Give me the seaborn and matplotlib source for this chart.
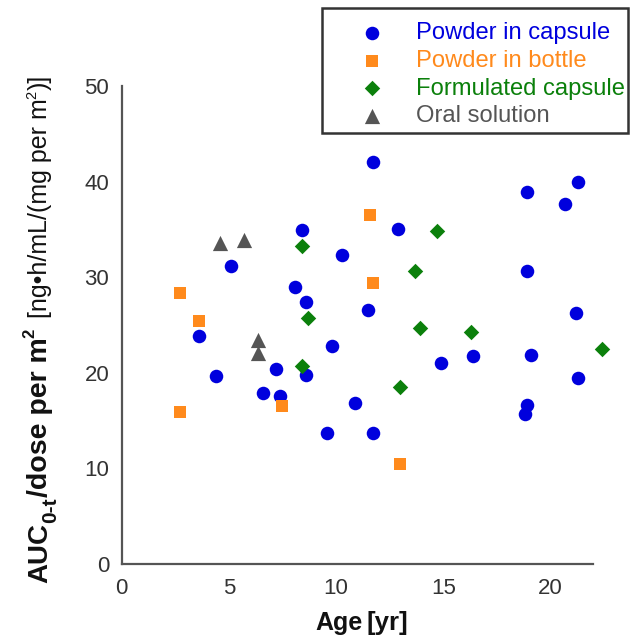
import pandas as pd
import seaborn as sns
import matplotlib
matplotlib.use("Agg")
import matplotlib.pyplot as plt
from matplotlib.patches import Rectangle

# values
groups = ["Powder in capsule", "Powder in bottle", "Formulated capsule",
          "Oral solution"]

capsule_age = [11.7, 8.4, 10.3, 5.1, 8.1, 8.6, 11.5, 3.6, 9.8, 7.2, 8.6, 4.4,
               6.6, 7.4, 10.9, 9.6, 11.7, 18.9, 21.3, 20.7, 12.9, 18.9, 21.2,
               16.4, 14.9, 19.1, 21.3, 18.9, 18.8]
capsule_auc = [42.0, 34.9, 32.3, 31.2, 29.0, 27.4, 26.6, 23.9, 22.8, 20.4,
               19.8, 19.7, 17.9, 17.6, 16.8, 13.7, 13.7, 38.9, 40.0, 37.7,
               35.0, 30.6, 26.3, 21.8, 21.0, 21.9, 19.5, 16.6, 15.7]
bottle_age = [11.6, 11.7, 2.7, 3.6, 7.5, 2.7, 13.0]
bottle_auc = [36.5, 29.4, 28.3, 25.4, 16.5, 15.9, 10.5]
formulated_age = [8.4, 8.7, 8.4, 14.7, 13.7, 13.9, 16.3, 22.4, 13.0]
formulated_auc = [33.3, 25.7, 20.7, 34.8, 30.7, 24.7, 24.3, 22.5, 18.5]
solution_age = [4.6, 5.7, 6.35, 6.35]
solution_auc = [33.6, 33.9, 23.4, 22.1]

x_ticks = [0, 5, 10, 15, 20]
y_ticks = [0, 10, 20, 30, 40, 50]

colors = {"Powder in capsule": "#0000dd", "Powder in bottle": "#ff8a1c",
          "Formulated capsule": "#0b800b", "Oral solution": "#555555"}
markers = {"Powder in capsule": "o", "Powder in bottle": "s",
           "Formulated capsule": "D", "Oral solution": "^"}
sizes = {"Powder in capsule": 95, "Powder in bottle": 78,
         "Formulated capsule": 62, "Oral solution": 120}

df = pd.concat([
    pd.DataFrame({"age": capsule_age, "auc": capsule_auc,
                  "form": groups[0]}),
    pd.DataFrame({"age": bottle_age, "auc": bottle_auc, "form": groups[1]}),
    pd.DataFrame({"age": formulated_age, "auc": formulated_auc,
                  "form": groups[2]}),
    pd.DataFrame({"age": solution_age, "auc": solution_auc,
                  "form": groups[3]}),
])

sns.set_style("white")
plt.rcParams["font.family"] = ["Liberation Sans", "DejaVu Sans"]

W, H = 632, 644
fig = plt.figure(figsize=(W / 100, H / 100), dpi=100)
ax = fig.add_axes([121.7 / W, (H - 564) / H, (593.3 - 121.7) / W,
                   (564 - 86) / H])

for g in groups:
    sub = df[df["form"] == g]
    sns.scatterplot(data=sub, x="age", y="auc", ax=ax, color=colors[g],
                    marker=markers[g], s=sizes[g], linewidth=0, label=g,
                    clip_on=False, zorder=3)

ax.set_xlim(0, 22)
ax.set_ylim(0, 50)
ax.set_xticks(x_ticks)
ax.set_yticks(y_ticks)
ax.set_xlabel("")
ax.set_ylabel("")
for side in ["top", "right"]:
    ax.spines[side].set_visible(False)
for side in ["left", "bottom"]:
    ax.spines[side].set_color("#555555")
    ax.spines[side].set_linewidth(1.6)
ax.tick_params(axis="both", direction="out", length=7, width=1.6,
               color="#555555", labelcolor="#333333", labelsize=16, pad=2)
ax.tick_params(axis="x", pad=3)

# legend entries without frame; the box is drawn separately
handles, labels = ax.get_legend_handles_labels()
ax.get_legend().remove()
leg = fig.legend(handles, labels, loc="upper left",
                 bbox_to_anchor=(322 / W, 1 - 15 / H), fontsize=17.1,
                 frameon=False, borderpad=0.3, handlelength=3.6,
                 handletextpad=0.07, labelspacing=0.24, scatterpoints=1,
                 borderaxespad=0)
for txt, g in zip(leg.get_texts(), labels):
    txt.set_color(colors[g])
fig.patches.append(Rectangle((322 / W, 1 - 133 / H), 306 / W, 125 / H,
                             transform=fig.transFigure, fill=False,
                             edgecolor="#333333", linewidth=1.8))


def chain(pieces, x_px, y_px, vertical=False):
    # place text pieces one after another along a shared baseline
    r = fig.canvas.get_renderer()
    pos = (H - y_px) if vertical else x_px
    for s, size, weight, shift, gap in pieces:
        pos += gap
        if vertical:
            t = fig.text((x_px - shift) / W, pos / H, s, rotation=90,
                         rotation_mode="anchor", ha="left", va="baseline",
                         fontsize=size, fontweight=weight, color="#111111")
            pos = t.get_window_extent(r).y1
        else:
            t = fig.text(pos / W, (H - y_px + shift) / H, s, ha="left",
                         va="baseline", fontsize=size, fontweight=weight,
                         color="#111111")
            pos = t.get_window_extent(r).x1


chain([("Age", 18, "bold", 0, 0), ("[yr]", 18.5, "bold", 0, 4)], 315, 630)
chain([("AUC", 20, "bold", 0, 0), ("0-t", 15, "bold", -9, 0),
       ("/dose per m", 20.5, "bold", 0, 0), ("2", 12, "bold", 13, 0),
       ("[ng\u2022h/mL/(mg per m", 18, "normal", 0, 10),
       ("2", 10.5, "normal", 11, 0), (")]", 18, "normal", 0, 0)],
      47, 583, vertical=True)

fig.savefig("out.png", dpi=100)
